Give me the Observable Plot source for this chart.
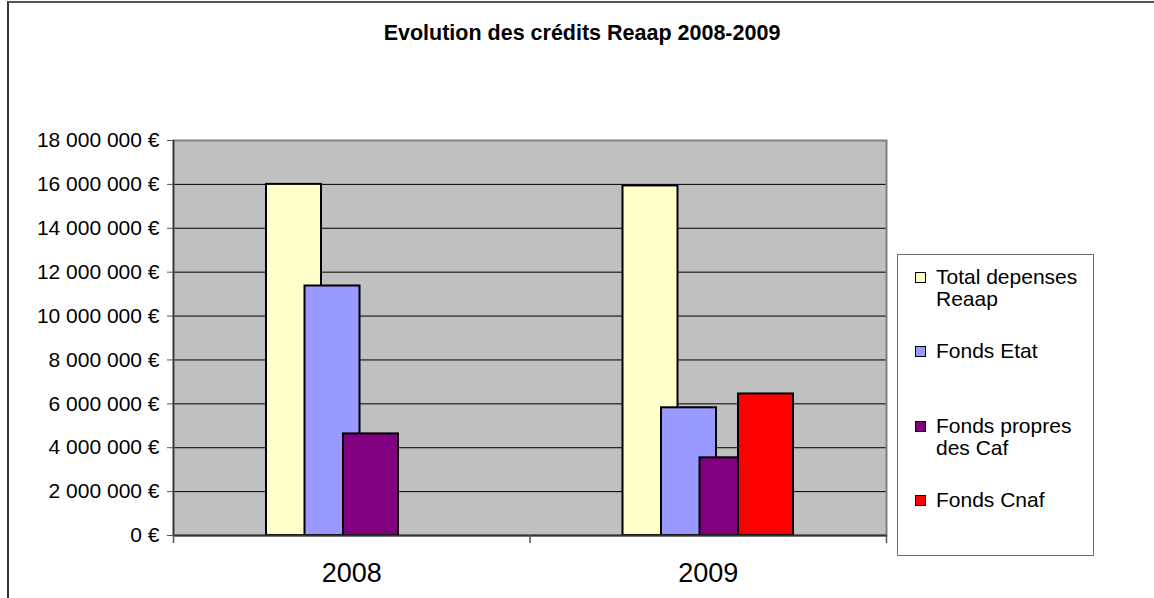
<!DOCTYPE html>
<html>
<head>
<meta charset="utf-8">
<script src="https://cdn.jsdelivr.net/npm/d3@7"></script>
<script src="https://cdn.jsdelivr.net/npm/@observablehq/plot@0.6"></script>
<style>
  html, body { margin: 0; padding: 0; background: #fff; }
  #wrap { position: relative; width: 1154px; height: 598px; overflow: hidden; font-family: Arial, "Liberation Sans", sans-serif; }
  #frame { position: absolute; left: 7px; top: 1px; right: 0; bottom: -5px; border-top: 2px solid #555; border-left: 2px solid #333; }
  #title { position: absolute; left: 0; width: 1164px; top: 21px; text-align: center; font-weight: bold; font-size: 21.5px; color: #000; }
  #chart { position: absolute; left: 0; top: 0; }
  #legend { position: absolute; left: 897px; top: 254px; width: 195px; height: 300px; border: 1px solid #707070; background: #fff; font-size: 21px; color: #000; }
  .item { position: absolute; left: 38px; line-height: 22px; }
  .sw { position: absolute; left: -21px; top: 6px; width: 9px; height: 9px; border: 1px solid #000; }
</style>
</head>
<body>
<div id="wrap">
  <div id="frame"></div>
  <div id="chart"></div>
  <div id="title">Evolution des crédits Reaap 2008-2009</div>
  <div id="legend"></div>
</div>
<script>
// ---- data ----
const years = ["2008", "2009"];
const seriesNames = ["Total depenses Reaap", "Fonds Etat", "Fonds propres des Caf", "Fonds Cnaf"];
const legendLines = [["Total depenses", "Reaap"], ["Fonds Etat"], ["Fonds propres", "des Caf"], ["Fonds Cnaf"]];
const totalDepenses = [16000000, 15930000];
const fondsEtat = [11370000, 5820000];
const fondsCaf = [4630000, 3540000];
const fondsCnaf = [null, 6450000];
const seriesColors = ["#FFFFCC", "#9999FF", "#800080", "#FF0000"];
const yTicks = [0, 2000000, 4000000, 6000000, 8000000, 10000000, 12000000, 14000000, 16000000, 18000000];

const seriesValues = [totalDepenses, fondsEtat, fondsCaf, fondsCnaf];
const rows = [];
seriesNames.forEach((s, si) => years.forEach((y, yi) => {
  const v = seriesValues[si][yi];
  if (v != null) rows.push({year: y, series: s, si, value: v});
}));

const fr = d3.formatLocale({decimal: ",", thousands: "\u00a0", grouping: [3], currency: ["", "\u00a0€"]});
const fmt = fr.format("$,.0f");

const W = 1154, H = 598;
const mL = 173, mR = 268, mT = 140, mB = 63;
const bandW = (W - mL - mR) / years.length;
const barW = 55, step = 38.5;
const inset = (bandW - barW) / 2;

const barMarks = seriesNames.map((s, si) =>
  Plot.barY(rows.filter(r => r.series === s), {
    x: "year", y: "value", fill: seriesColors[si], stroke: "#000", strokeWidth: 2,
    insetLeft: inset, insetRight: inset, dx: (si - 1.5) * step
  })
);

const plot = Plot.plot({
  width: W, height: H,
  marginLeft: mL, marginRight: mR, marginTop: mT, marginBottom: mB,
  style: {background: "transparent", fontFamily: "Arial, 'Liberation Sans', sans-serif", color: "#000", overflow: "visible"},
  x: {type: "band", domain: years, padding: 0, round: false, label: null},
  y: {domain: [0, 18000000], label: null},
  marks: [
    Plot.frame({fill: "#C0C0C0", stroke: null}),
    Plot.gridY(yTicks, {stroke: "#000", strokeOpacity: 1, strokeWidth: 1}),
    Plot.frame({stroke: "#808080", strokeWidth: 2}),
    ...barMarks,
    Plot.ruleY([0], {stroke: "#333", strokeWidth: 2}),
    Plot.ruleX([years[0]], {stroke: "#333", strokeWidth: 1.5, dx: -bandW / 2}),
    Plot.ruleX(years, {stroke: "#555", strokeWidth: 1.5, dx: bandW / 2, insetTop: H - mT - mB, insetBottom: -8}),
    Plot.ruleX([years[0]], {stroke: "#555", strokeWidth: 1.5, dx: -bandW / 2, insetTop: H - mT - mB, insetBottom: -8}),
    Plot.axisY({ticks: yTicks, tickFormat: fmt, tickSize: 6, tickPadding: 8, fontSize: 21, stroke: "#555", label: null}),
    Plot.axisX({tickSize: 0, tickPadding: 27, fontSize: 27, label: null})
  ]
});
document.getElementById("chart").appendChild(plot);

// legend
const legend = document.getElementById("legend");
const tops = [11, 85, 160, 234];
legendLines.forEach((lines, i) => {
  const it = document.createElement("div");
  it.className = "item";
  it.style.top = tops[i] + "px";
  const sw = document.createElement("span");
  sw.className = "sw";
  sw.style.background = seriesColors[i];
  it.appendChild(sw);
  lines.forEach((l, j) => {
    if (j) it.appendChild(document.createElement("br"));
    it.appendChild(document.createTextNode(l));
  });
  legend.appendChild(it);
});
</script>
</body>
</html>
